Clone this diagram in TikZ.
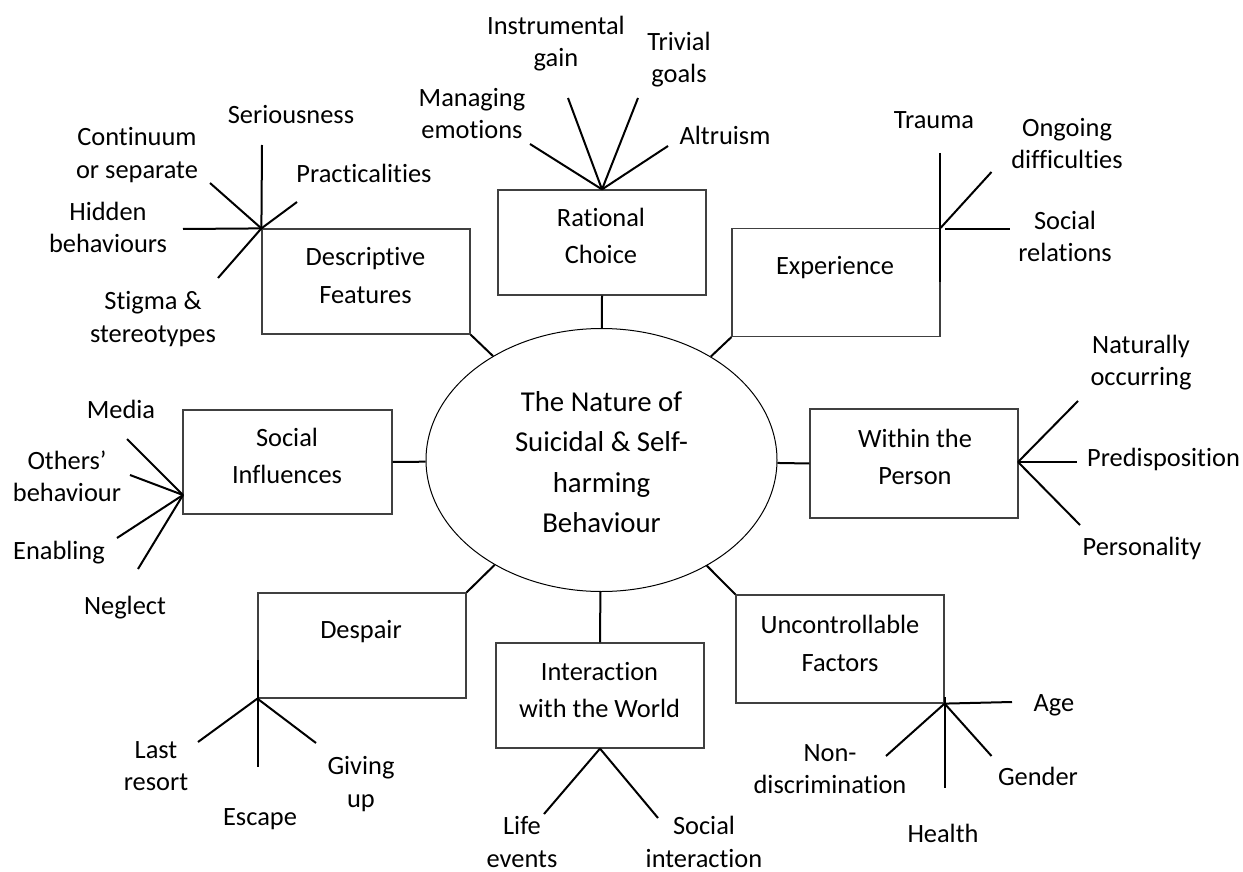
\documentclass[tikz,border=0pt]{standalone}
\usepackage{fontspec}
\setmainfont{Carlito}[Ligatures=NoCommon]
\usetikzlibrary{shapes.geometric}
\begin{document}
\begin{tikzpicture}[x=1pt,y=-1pt,
  box/.style={draw=black!75,line width=1.2pt,rectangle,inner sep=0pt},
  boxtext/.style={align=center,inner sep=0pt,font=\fontsize{26.4}{37.5}\selectfont},
  lbl/.style={align=center,inner sep=0pt,font=\fontsize{26.4}{32.2}\selectfont},
  link/.style={line width=2pt},
  spoke/.style={line width=2pt}]
\useasboundingbox (0,0) rectangle (1243,872);

% central ellipse
\node[draw,ellipse,line width=1pt,minimum width=351pt,minimum height=263pt,inner sep=0pt] (ell) at (601.5,460) {};
\node[align=center,inner sep=0pt,font=\fontsize{28.8}{40.5}\selectfont] (elltext) at (601.5,462)
  {The Nature of\\Suicidal \& Self-\\harming\\Behaviour};

% theme boxes
\node[box,minimum width=208pt,minimum height=105pt] (df) at (366,281.5) {};
\node[boxtext] (dft) at (365.5,275.5) {Descriptive\\Features};
\node[box,minimum width=208pt,minimum height=105pt] (rc) at (602,242.5) {};
\node[boxtext] (rct) at (601,236) {Rational\\Choice};
\node[box,minimum width=208pt,minimum height=108pt] (ex) at (836,282.5) {};
\node[boxtext] (ext) at (835,268) {Experience};
\node[box,minimum width=209pt,minimum height=104pt] (si) at (287.5,462) {};
\node[boxtext] (sit) at (287,456) {Social\\Influences};
\node[box,minimum width=208pt,minimum height=109pt] (wp) at (914,463.5) {};
\node[boxtext] (wpt) at (915,457) {Within the\\Person};
\node[box,minimum width=208pt,minimum height=105pt] (de) at (362,645.5) {};
\node[boxtext] (det) at (361,632) {Despair};
\node[box,minimum width=208pt,minimum height=105pt] (iw) at (600,695.5) {};
\node[boxtext] (iwt) at (599.5,690) {Interaction\\with the World};
\node[box,minimum width=208pt,minimum height=108pt] (uf) at (840,649) {};
\node[boxtext] (uft) at (840,643.5) {Uncontrollable\\Factors};

% links from the boxes to the ellipse
\draw[link] (df.south east) -- (ell);
\draw[link] (rc.south) -- (ell);
\draw[link] (ex.south west) -- (ell);
\draw[link] (si.east) -- (ell);
\draw[link] (wp.west) -- (ell);
\draw[link] (de.north east) -- (ell);
\draw[link] (iw.north) -- (ell);
\draw[link] (uf.north west) -- (ell);

% Descriptive Features
\coordinate (df1) at (262,145);
\coordinate (df2) at (210,183);
\coordinate (df3) at (297,202);
\coordinate (df4) at (183,229);
\coordinate (df5) at (218,278);
\foreach \e in {df1,df2,df3,df4,df5} \draw[spoke] (df.north west) -- (\e);
\node[lbl] (l-ser) at (291,115) {Seriousness};
\node[lbl] (l-con) at (137,155) {Continuum\\or separate};
\node[lbl] (l-pra) at (364,173) {Practicalities};
\node[lbl] (l-hid) at (108,227.5) {Hidden\\behaviours};
\node[lbl] (l-sti) at (153,319) {Stigma \&\\stereotypes};

% Rational Choice
\coordinate (rc1) at (530,144);
\coordinate (rc2) at (568,98);
\coordinate (rc3) at (638,98);
\coordinate (rc4) at (668,146);
\foreach \e in {rc1,rc2,rc3,rc4} \draw[spoke] (rc.north) -- (\e);
\node[lbl] (l-man) at (472,113.5) {Managing\\emotions};
\node[lbl] (l-ins) at (556,43.5) {Instrumental\\gain};
\node[lbl] (l-tri) at (679,59.5) {Trivial\\goals};
\node[lbl] (l-alt) at (725,135) {Altruism};

% Experience
\coordinate (ex1a) at (940,153);
\coordinate (ex1b) at (940,282);
\coordinate (ex2) at (991.5,172);
\coordinate (ex3a) at (945,228.5);
\coordinate (ex3b) at (1010,228.5);
\draw[spoke] (ex1a) -- (ex1b);
\draw[spoke] (ex.north east) -- (ex2);
\draw[spoke] (ex3a) -- (ex3b);
\node[lbl] (l-tra) at (934,120) {Trauma};
\node[lbl] (l-ong) at (1067,143.5) {Ongoing\\difficulties};
\node[lbl] (l-srl) at (1065,236.5) {Social\\relations};

% Social Influences
\coordinate (si1) at (127,439);
\coordinate (si2) at (130,475);
\coordinate (si3) at (117,538);
\coordinate (si4) at (138,569);
\coordinate (sih) at (183,495);
\foreach \e in {si1,si2,si3,si4} \draw[spoke] (sih) -- (\e);
\node[lbl] (l-med) at (121,409) {Media};
\node[lbl] (l-oth) at (67,476) {Others’\\behaviour};
\node[lbl] (l-ena) at (59,553) {Enabling};
\node[lbl] (l-neg) at (125,608) {Neglect};

% Within the Person
\coordinate (wph) at (1018,462);
\coordinate (wp1) at (1078,401);
\coordinate (wp2) at (1077,462);
\coordinate (wp3) at (1080,525);
\foreach \e in {wp1,wp2,wp3} \draw[spoke] (wph) -- (\e);
\node[lbl] (l-nat) at (1141,362.5) {Naturally\\occurring};
\node[lbl,anchor=west] (l-pre) at (1087,459) {Predisposition};
\node[lbl] (l-per) at (1142,548) {Personality};

% Despair
\coordinate (de1) at (198,742);
\coordinate (de2a) at (258,660);
\coordinate (de2b) at (258,767);
\coordinate (de3) at (316,743);
\draw[spoke] (de.south west) -- (de1);
\draw[spoke] (de2a) -- (de2b);
\draw[spoke] (de.south west) -- (de3);
\node[lbl] (l-las) at (156,766) {Last\\resort};
\node[lbl] (l-esc) at (260,819) {Escape};
\node[lbl] (l-giv) at (361,784) {Giving\\up};

% Interaction with the World
\coordinate (iw1) at (544,814);
\coordinate (iw2) at (658,818);
\draw[spoke] (iw.south) -- (iw1);
\draw[spoke] (iw.south) -- (iw2);
\node[lbl] (l-lif) at (522,842) {Life\\events};
\node[lbl] (l-soc) at (704,842) {Social\\interaction};

% Uncontrollable Factors
\coordinate (uf1) at (1012,702);
\coordinate (uf2) at (886,756);
\coordinate (uf3a) at (945,697);
\coordinate (uf3b) at (945,788);
\coordinate (uf4) at (991.5,756);
\draw[spoke] (uf.south east) -- (uf1);
\draw[spoke] (uf.south east) -- (uf2);
\draw[spoke] (uf3a) -- (uf3b);
\draw[spoke] (uf.south east) -- (uf4);
\node[lbl] (l-age) at (1054,705) {Age};
\node[lbl] (l-non) at (830,769) {Non-\\discrimination};
\node[lbl] (l-hea) at (943,833) {Health};
\node[lbl] (l-gen) at (1038,776) {Gender};
\end{tikzpicture}
\end{document}
